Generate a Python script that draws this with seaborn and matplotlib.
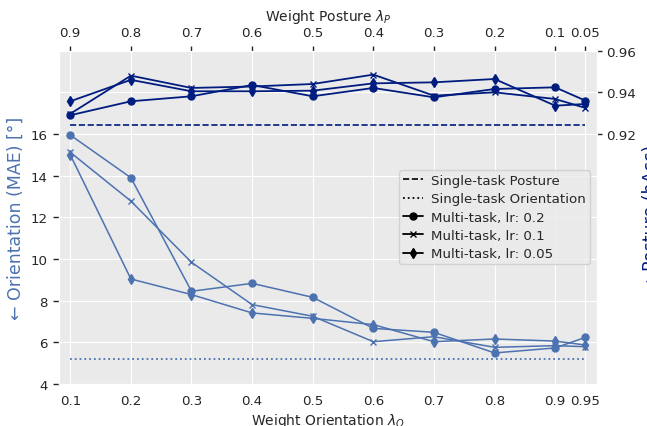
import matplotlib
matplotlib.use('Agg')  # no display
import matplotlib.pyplot as plt
from matplotlib.lines import Line2D
from matplotlib.ticker import FixedLocator
import seaborn as sns

# weights (bottom axis = orientation, top axis = posture = 1 - orientation)
lam_orient = [0.1, 0.2, 0.3, 0.4, 0.5, 0.6, 0.7, 0.8, 0.9, 0.95]
lam_orient_labels = ['0.1', '0.2', '0.3', '0.4', '0.5', '0.6', '0.7', '0.8', '0.9', '0.95']
lam_posture_labels = ['0.9', '0.8', '0.7', '0.6', '0.5', '0.4', '0.3', '0.2', '0.1', '0.05']
lr_names = ['0.2', '0.1', '0.05']

# orientation error (MAE, degrees)
orient_lr02 = [15.95, 13.90, 8.45, 8.83, 8.16, 6.67, 6.48, 5.49, 5.73, 6.24]
orient_lr01 = [15.12, 12.78, 9.84, 7.81, 7.25, 6.03, 6.27, 5.76, 5.84, 5.79]
orient_lr005 = [15.00, 9.04, 8.29, 7.41, 7.15, 6.85, 6.03, 6.16, 6.06, 5.87]

# posture accuracy
posture_lr02 = [0.9290, 0.9357, 0.9381, 0.9435, 0.9381, 0.9421, 0.9376, 0.9416, 0.9424, 0.9360]
posture_lr01 = [0.9297, 0.9480, 0.9421, 0.9428, 0.9440, 0.9485, 0.9384, 0.9400, 0.9368, 0.9325]
posture_lr005 = [0.9357, 0.9460, 0.9405, 0.9405, 0.9408, 0.9443, 0.9448, 0.9464, 0.9336, 0.9344]

# single-task baselines
single_posture = 0.9245
single_orient = 5.2

ORIENT_C = '#4c72b0'
POSTURE_C = '#001c7f'
MARKERS = ['o', 'x', 'd']
FS = 9.6

sns.set_style('darkgrid', {'axes.facecolor': '#EAEAEA', 'grid.color': 'white'})
plt.rcParams['font.family'] = ['DejaVu Sans']

fig = plt.figure(figsize=(6.47, 4.27), dpi=100)
ax = fig.add_axes([0.0912, 0.0984, 0.8311, 0.7806])

# Orientation (left axis)
for vals, mk in zip([orient_lr02, orient_lr01, orient_lr005], MARKERS):
    sns.lineplot(x=lam_orient, y=vals, color=ORIENT_C, linewidth=1.1, marker=mk,
                 markersize=5, markeredgecolor=ORIENT_C, markeredgewidth=1.0,
                 estimator=None, ax=ax)
ax.hlines(single_orient, lam_orient[0], lam_orient[-1], colors=ORIENT_C,
          linestyles=':', linewidth=1.3)

ax.set_ylim(4, 20)
ax.set_yticks(range(4, 17, 2))
ax.yaxis.set_minor_locator(FixedLocator([18]))
ax.grid(True, which='both', axis='y', color='white')
ax.set_xticks(lam_orient)
ax.set_xticklabels(lam_orient_labels)
ax.tick_params(axis='x', bottom=True, length=0, pad=7, labelsize=FS, labelcolor='.15')
ax.tick_params(axis='y', which='major', left=True, length=4.5, width=1, pad=3.5,
               labelsize=FS, color='.15', labelcolor='.15')
ax.tick_params(axis='y', which='minor', length=0)
ax.set_xlabel('Weight Orientation $\\lambda_O$', fontsize=10, color='.15', labelpad=3)
ax.set_ylabel('\u2190 Orientation (MAE) [\u00b0]', fontsize=12.5, color=ORIENT_C)

# Posture (right axis)
ax2 = ax.twinx()
for vals, mk in zip([posture_lr02, posture_lr01, posture_lr005], MARKERS):
    sns.lineplot(x=lam_orient, y=vals, color=POSTURE_C, linewidth=1.3, marker=mk,
                 markersize=5, markeredgecolor=POSTURE_C, markeredgewidth=1.0,
                 estimator=None, ax=ax2)
ax2.hlines(single_posture, lam_orient[0], lam_orient[-1], colors=POSTURE_C,
           linestyles='--', linewidth=1.2)
ax2.set_ylim(0.8, 0.96)
ax2.set_yticks([0.92, 0.94, 0.96])
ax2.grid(False)
ax2.tick_params(axis='y', right=True, length=3.5, width=1, pad=3.5,
                labelsize=FS, color='.15', labelcolor='.15')
ax2.set_ylabel('\u2192 Posture (hAcc)', fontsize=12.5, color=POSTURE_C)

# Top axis with posture weights
ax_top = ax.twiny()
ax_top.grid(False)
ax_top.set_xticks(lam_orient)
ax_top.set_xticklabels(lam_posture_labels)
ax_top.tick_params(axis='x', top=True, length=3.5, width=1, pad=5,
                   labelsize=FS, color='.15', labelcolor='.15')
ax_top.set_xlabel('Weight Posture $\\lambda_P$', fontsize=10, color='.15')

for a in (ax, ax_top):
    a.set_xlim(0.0814, 0.9686)

handles = [
    Line2D([], [], color='k', ls='--', lw=1.2),
    Line2D([], [], color='k', ls=':', lw=1.3),
    Line2D([], [], color='k', ls='-', marker='o', markersize=5, lw=1.3),
    Line2D([], [], color='k', ls='-', marker='x', markersize=5, lw=1.3),
    Line2D([], [], color='k', ls='-', marker='d', markersize=5, lw=1.3),
]
labels = ['Single-task Posture', 'Single-task Orientation', 'Multi-task, lr: 0.2',
          'Multi-task, lr: 0.1', 'Multi-task, lr: 0.05']
ax_top.legend(handles, labels, loc='center right', fontsize=FS, frameon=True,
              facecolor='#EAEAEA', edgecolor='#CCCCCC', framealpha=0.8,
              handlelength=1.5, borderpad=0.3, labelspacing=0.4, handletextpad=0.6)

fig.savefig('out.png', dpi=100)
plt.close(fig)
